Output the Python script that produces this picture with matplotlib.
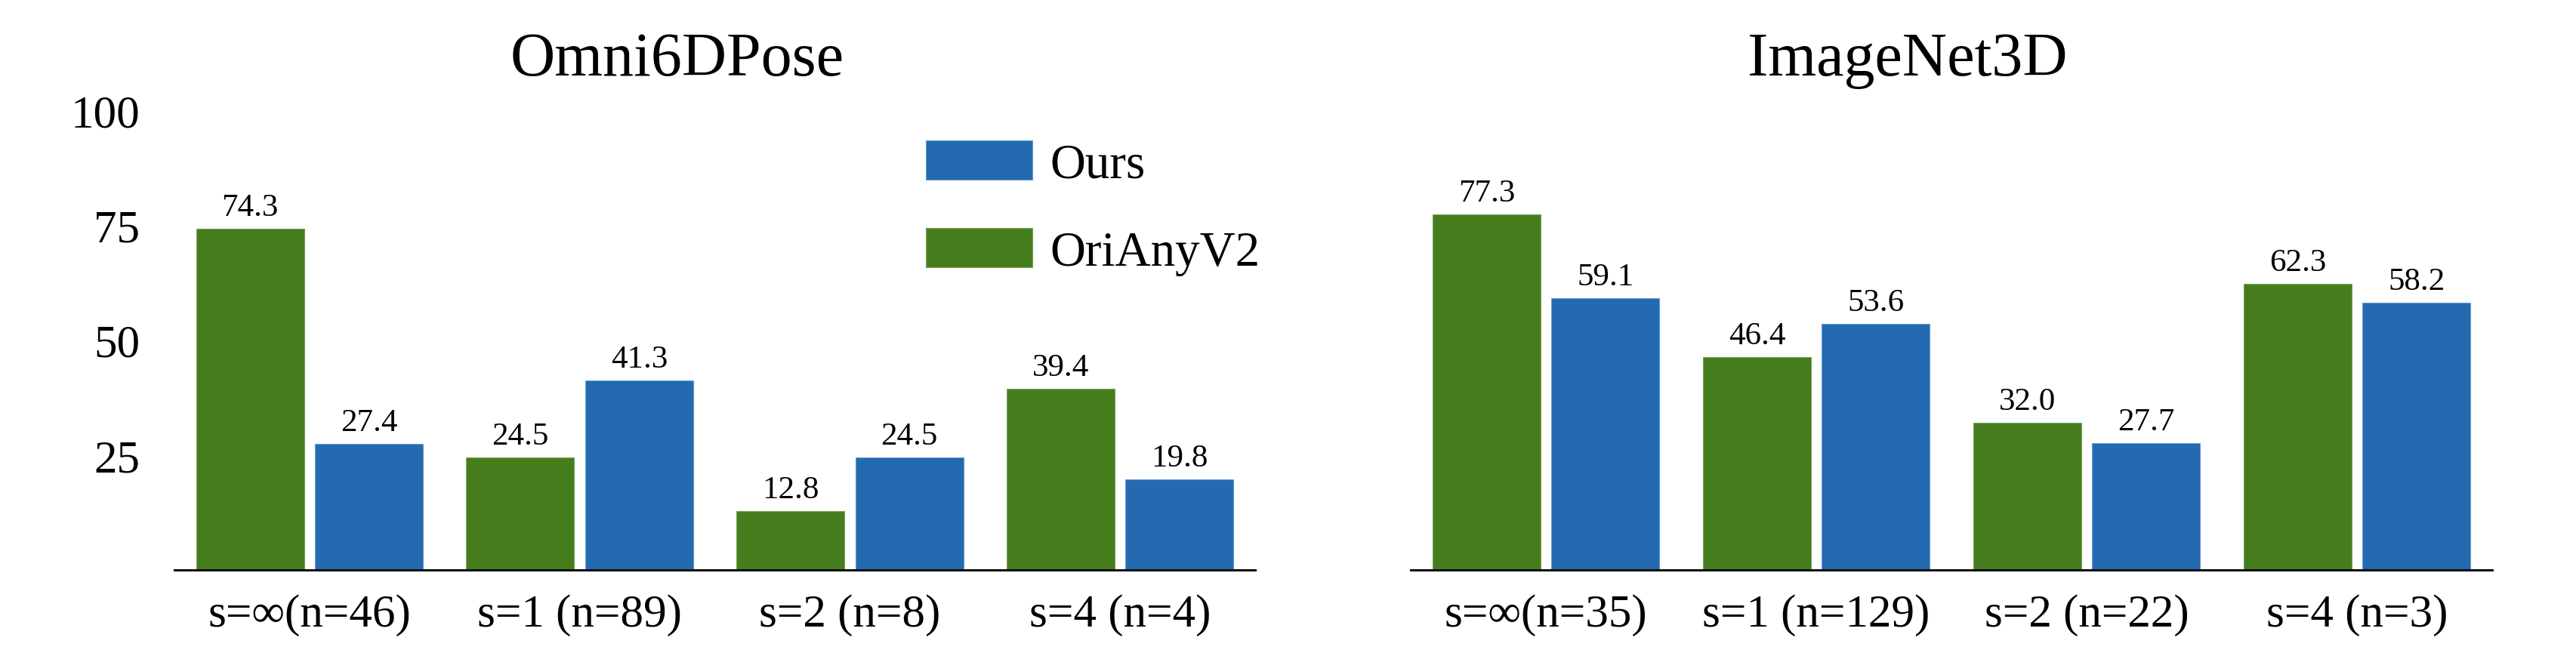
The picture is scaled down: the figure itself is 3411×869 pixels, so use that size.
import numpy as np
import matplotlib
matplotlib.use("Agg")
import matplotlib.pyplot as plt

plt.rcParams['font.family'] = ['Liberation Serif', 'DejaVu Serif']

# data
groups_omni = ['s=∞(n=46)', 's=1 (n=89)', 's=2 (n=8)', 's=4 (n=4)']
omni_orianyv2 = [74.3, 24.5, 12.8, 39.4]
omni_ours = [27.4, 41.3, 24.5, 19.8]

groups_inet = ['s=∞(n=35)', 's=1 (n=129)', 's=2 (n=22)', 's=4 (n=3)']
inet_orianyv2 = [77.3, 46.4, 32.0, 62.3]
inet_ours = [59.1, 53.6, 27.7, 58.2]

yticks = [25, 50, 75, 100]

green = '#457d1d'
blue = '#236ab0'

fig = plt.figure(figsize=(17.06, 4.35), dpi=200)
ax1 = fig.add_axes([0.0677, 0.1305, 0.4194, 0.7006])
ax2 = fig.add_axes([0.5475, 0.1305, 0.4197, 0.7006])

width = 0.4
offset = 0.22


def draw(ax, groups, green_vals, blue_vals, title, title_x):
    x = np.arange(len(groups))
    b1 = ax.bar(x - offset, green_vals, width, color=green, label='OriAnyV2',
                edgecolor='#7aa35c', linewidth=0.4)
    b2 = ax.bar(x + offset, blue_vals, width, color=blue, label='Ours',
                edgecolor='#6a9bd0', linewidth=0.4)
    for bars, vals in ((b1, green_vals), (b2, blue_vals)):
        for rect, v in zip(bars, vals):
            ax.annotate(f'{v:.1f}', (rect.get_x() + rect.get_width() / 2, v),
                        xytext=(0, 6.5), textcoords='offset points',
                        ha='center', va='baseline', fontsize=15.5)
    ax.set_xlim(-0.5, len(groups) - 0.5)
    ax.set_ylim(0, 100)
    ax.set_xticks(x)
    ax.set_xticklabels(groups, fontsize=22)
    ax.tick_params(axis='x', length=0, pad=11)
    for s in ('top', 'right', 'left'):
        ax.spines[s].set_visible(False)
    ax.spines['bottom'].set_linewidth(1.1)
    ax.spines['bottom'].set_color('#111111')
    ax.set_title(title, fontsize=29.5, x=title_x, pad=17)
    return b1, b2


g1, bl1 = draw(ax1, groups_omni, omni_orianyv2, omni_ours, 'Omni6DPose', 0.465)
draw(ax2, groups_inet, inet_orianyv2, inet_ours, 'ImageNet3D', 0.459)

ax1.set_yticks(yticks)
ax1.set_yticklabels([str(t) for t in yticks], fontsize=22)
ax1.tick_params(axis='y', length=0, pad=16.5)
ax2.set_yticks([])

ax1.legend([bl1, g1], ['Ours', 'OriAnyV2'], loc='upper left',
           bbox_to_anchor=(0.695, 0.934), frameon=False, fontsize=23.4,
           borderpad=0, borderaxespad=0, handlelength=2.17, handleheight=0.86,
           handletextpad=0.37, labelspacing=0.82)

fig.savefig('out.png', dpi=200)
